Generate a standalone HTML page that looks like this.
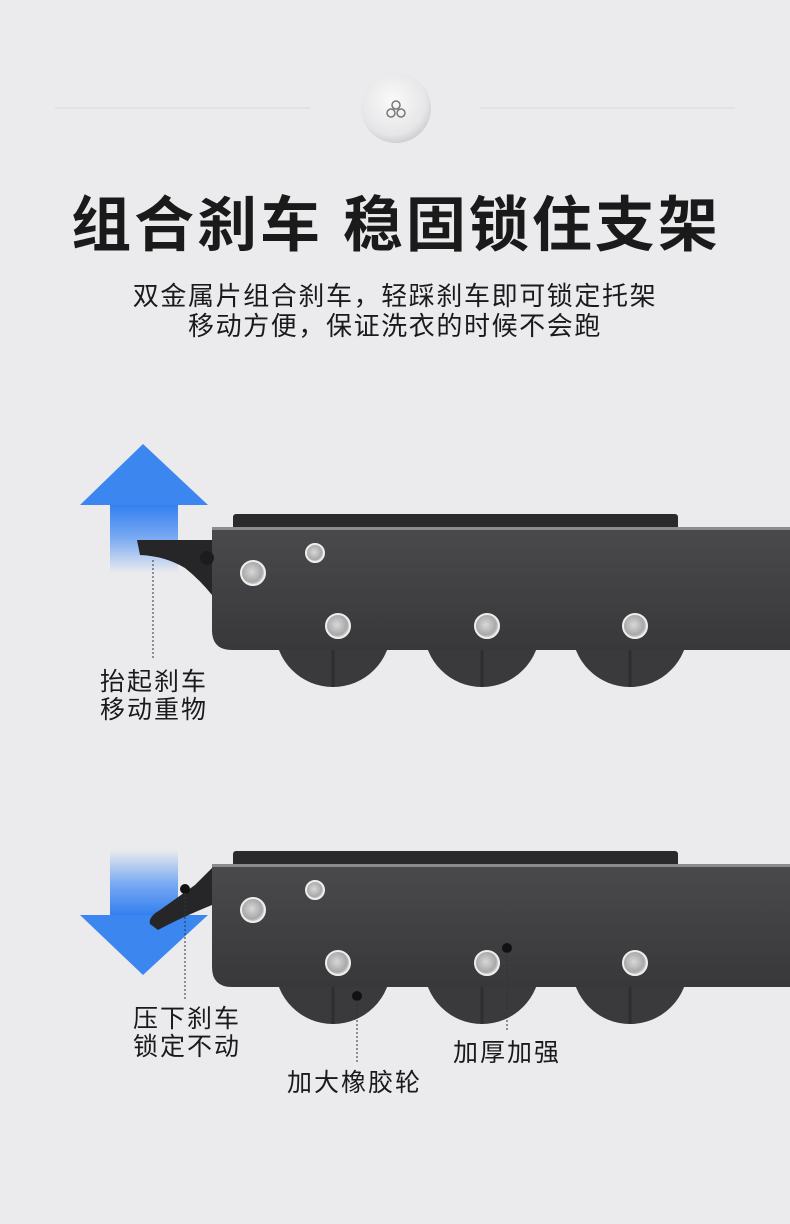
<!DOCTYPE html>
<html><head><meta charset="utf-8"><style>
body{margin:0;background:#ebebee;}
svg{display:block}
text{font-family:"Liberation Sans","Noto Sans CJK SC",sans-serif;fill:#1a1a1a}
</style></head><body>
<svg width="790" height="1224" viewBox="0 0 790 1224" xmlns="http://www.w3.org/2000/svg">
<defs>
<radialGradient id="btn" cx="0.45" cy="0.4" r="0.6"><stop offset="0" stop-color="#fafafa"/><stop offset="0.8" stop-color="#e6e6e8"/><stop offset="1" stop-color="#d0d0d4"/></radialGradient>
<linearGradient id="up" x1="0" y1="0" x2="0" y2="1"><stop offset="0" stop-color="#2f7df0"/><stop offset="0.5" stop-color="#7aaaf2"/><stop offset="1" stop-color="#ebebee"/></linearGradient>
<linearGradient id="dn" x1="0" y1="1" x2="0" y2="0"><stop offset="0" stop-color="#2f7df0"/><stop offset="0.5" stop-color="#7aaaf2"/><stop offset="1" stop-color="#ebebee"/></linearGradient>
<radialGradient id="bolt" cx="0.45" cy="0.45" r="0.6"><stop offset="0" stop-color="#d8d8d8"/><stop offset="0.7" stop-color="#a8a8a8"/><stop offset="1" stop-color="#eee"/></radialGradient>
<linearGradient id="body" x1="0" y1="0" x2="0" y2="1"><stop offset="0" stop-color="#4a4a4d"/><stop offset="1" stop-color="#38383b"/></linearGradient>
<g id="cart">
  <g fill="#3a3a3d"><circle cx="333" cy="629" r="58"/><circle cx="482" cy="629" r="58"/><circle cx="630" cy="629" r="58"/></g>
  <g stroke="#2e2e30" stroke-width="3"><line x1="333" y1="650" x2="333" y2="687"/><line x1="482" y1="650" x2="482" y2="687"/><line x1="630" y1="650" x2="630" y2="687"/></g>
  <rect x="233" y="514" width="445" height="18" rx="3" fill="#2a2a2c"/>
  <path d="M212 527 H790 V650 H232 Q212 650 212 630 Z" fill="url(#body)"/>
  <rect x="212" y="527" width="578" height="3" fill="#8c8c90"/>
  <g stroke="#eee" stroke-width="2" fill="url(#bolt)">
    <circle cx="253" cy="573" r="12"/><circle cx="315" cy="553" r="9"/>
    <circle cx="338" cy="626" r="12"/><circle cx="487" cy="626" r="12"/><circle cx="635" cy="626" r="12"/>
  </g>
</g>
</defs>
<line x1="55" y1="108" x2="310" y2="108" stroke="#d8d8dc"/>
<line x1="480" y1="108" x2="735" y2="108" stroke="#d8d8dc"/>
<circle cx="396" cy="108" r="35" fill="url(#btn)"/>
<g fill="none" stroke="#777" stroke-width="1.5"><circle cx="396" cy="105" r="4"/><circle cx="391" cy="113" r="4"/><circle cx="401" cy="113" r="4"/></g>
<text x="396" y="246" font-size="60" font-weight="bold" text-anchor="middle" letter-spacing="3">组合刹车  稳固锁住支架</text>
<text x="395" y="305" font-size="26" text-anchor="middle" letter-spacing="1.6">双金属片组合刹车，轻踩刹车即可锁定托架</text>
<text x="395" y="335" font-size="26" text-anchor="middle" letter-spacing="1.6">移动方便，保证洗衣的时候不会跑</text>

<!-- cart 1 -->
<rect x="110" y="503" width="68" height="70" fill="url(#up)"/>
<polygon points="143,444 80,505 208,505" fill="#3c86f0"/>
<use href="#cart"/>
<path d="M137 540 H212 V595 Q200 580 185 568 Q165 556 140 555 Z" fill="#262628"/>
<circle cx="207" cy="558" r="7" fill="#1c1c1e"/>
<line x1="153" y1="560" x2="153" y2="660" stroke="#333" stroke-dasharray="2,2"/>
<text x="100" y="690" font-size="25" letter-spacing="2">抬起刹车</text>
<text x="100" y="718" font-size="25" letter-spacing="2">移动重物</text>

<!-- cart 2 -->
<rect x="110" y="850" width="68" height="67" fill="url(#dn)"/>
<polygon points="143,975 80,915 208,915" fill="#3c86f0"/>
<use href="#cart" y="337"/>
<path d="M212 868 L195 885 L160 910 Q148 917 150 924 L158 930 Q180 918 212 905 Z" fill="#262628"/>
<circle cx="185" cy="889" r="5" fill="#111"/>
<circle cx="357" cy="996" r="5" fill="#111"/>
<circle cx="507" cy="948" r="5" fill="#111"/>
<g stroke="#333" stroke-dasharray="2,2"><line x1="185" y1="893" x2="185" y2="1000"/><line x1="357" y1="1000" x2="357" y2="1062"/><line x1="507" y1="952" x2="507" y2="1032"/></g>
<text x="133" y="1027" font-size="25" letter-spacing="2">压下刹车</text>
<text x="133" y="1055" font-size="25" letter-spacing="2">锁定不动</text>
<text x="287" y="1091" font-size="25" letter-spacing="2">加大橡胶轮</text>
<text x="453" y="1061" font-size="25" letter-spacing="2">加厚加强</text>
</svg>
</body></html>
